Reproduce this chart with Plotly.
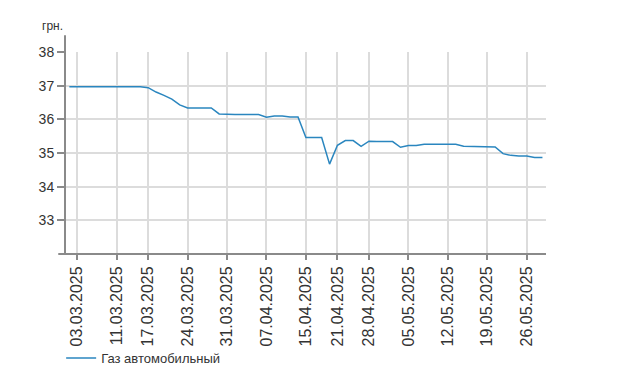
import plotly.graph_objects as go

dates = [
    "28.02.2025", "03.03.2025", "04.03.2025", "05.03.2025", "06.03.2025", "07.03.2025",
    "11.03.2025", "12.03.2025", "13.03.2025", "14.03.2025",
    "17.03.2025", "18.03.2025", "19.03.2025", "20.03.2025", "21.03.2025",
    "24.03.2025", "25.03.2025", "26.03.2025", "27.03.2025", "28.03.2025",
    "31.03.2025", "01.04.2025", "02.04.2025", "03.04.2025", "04.04.2025",
    "07.04.2025", "08.04.2025", "09.04.2025", "10.04.2025", "11.04.2025",
    "15.04.2025", "16.04.2025", "17.04.2025", "18.04.2025",
    "21.04.2025", "22.04.2025", "23.04.2025", "24.04.2025",
    "28.04.2025", "29.04.2025", "30.04.2025", "01.05.2025", "02.05.2025",
    "05.05.2025", "06.05.2025", "07.05.2025", "08.05.2025", "09.05.2025",
    "12.05.2025", "13.05.2025", "14.05.2025", "15.05.2025", "16.05.2025",
    "19.05.2025", "20.05.2025", "21.05.2025", "22.05.2025", "23.05.2025",
    "26.05.2025", "27.05.2025", "28.05.2025",
]

prices = [
    36.97, 36.97, 36.97, 36.97, 36.97, 36.97,
    36.97, 36.97, 36.97, 36.97,
    36.94, 36.81, 36.71, 36.60, 36.43,
    36.34, 36.34, 36.34, 36.34, 36.16,
    36.14, 36.14, 36.14, 36.14, 36.14,
    36.06, 36.10, 36.10, 36.07, 36.07,
    35.46, 35.46, 35.46, 34.67,
    35.23, 35.37, 35.37, 35.20,
    35.35, 35.34, 35.34, 35.34, 35.17,
    35.22, 35.22, 35.26, 35.26, 35.26,
    35.26, 35.26, 35.20, 35.20, 35.20,
    35.20, 35.18, 34.98, 34.93, 34.91,
    34.91, 34.87, 34.87,
]

tick_dates = [
    "03.03.2025", "11.03.2025", "17.03.2025", "24.03.2025", "31.03.2025",
    "07.04.2025", "15.04.2025", "21.04.2025", "28.04.2025", "05.05.2025",
    "12.05.2025", "19.05.2025", "26.05.2025",
]

y_ticks = [33, 34, 35, 36, 37, 38]
series_name = "Газ автомобильный"
unit_label = "грн."

FONT = "Liberation Sans, Arial, sans-serif"
AXIS_COLOR = "#8a8a8a"
GRID_COLOR = "#dcdcdc"

fig = go.Figure()
fig.add_trace(go.Scatter(
    x=dates, y=prices, mode="lines", name=series_name,
    line=dict(color="#2a86bf", width=1.5),
))

# the page body adds an 8px margin, so the figure is 8px smaller
fig.update_layout(
    width=615, height=381,
    margin=dict(l=57, r=77, t=44, b=135),
    paper_bgcolor="white", plot_bgcolor="white",
    font=dict(family=FONT, color="#333333"),
    showlegend=True,
    legend=dict(
        orientation="h", x=-0.008, y=-0.515, xanchor="left", yanchor="middle",
        font=dict(size=13, color="#333333", family=FONT),
        bgcolor="rgba(0,0,0,0)",
    ),
    xaxis=dict(
        type="category",
        categoryorder="array", categoryarray=dates,
        range=[-0.55, 60.45],
        tickmode="array", tickvals=tick_dates, ticktext=tick_dates,
        tickangle=-90,
        tickfont=dict(size=16, color="#333333", family=FONT),
        showgrid=True, gridcolor=GRID_COLOR, gridwidth=1.5,
        ticks="outside", ticklen=5, tickwidth=1.5, tickcolor=AXIS_COLOR,
        showline=False, zeroline=False, automargin=False,
    ),
    yaxis=dict(
        range=[32, 38],
        tickmode="array", tickvals=y_ticks,
        tickfont=dict(size=14, color="#333333", family=FONT),
        showgrid=True, gridcolor=GRID_COLOR, gridwidth=1.5,
        ticks="outside", ticklen=7, tickwidth=1.5, tickcolor=AXIS_COLOR,
        showline=False, zeroline=False, automargin=False,
    ),
)

# axis lines (y axis extends above the plot area, x axis slightly left of it)
fig.add_shape(type="line", xref="paper", yref="paper",
              x0=0, x1=0, y0=0, y1=1.083,
              line=dict(color=AXIS_COLOR, width=2))
fig.add_shape(type="line", xref="paper", yref="paper",
              x0=-0.014, x1=1.0, y0=0, y1=0,
              line=dict(color=AXIS_COLOR, width=2))

fig.add_annotation(
    text=unit_label, xref="paper", yref="paper",
    x=-0.052, y=1.13, xanchor="left", yanchor="middle",
    showarrow=False, font=dict(size=12, color="#333333", family=FONT),
)

fig.write_html("out.html")
